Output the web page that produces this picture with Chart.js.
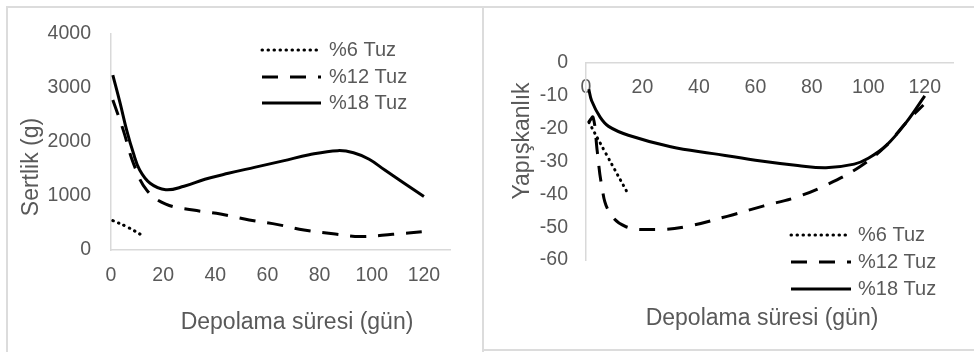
<!DOCTYPE html>
<html>
<head>
<meta charset="utf-8">
<script src="https://cdn.jsdelivr.net/npm/chart.js@4.4.1/dist/chart.umd.min.js"></script>
<style>
  html, body { margin: 0; padding: 0; background: #fff; }
  body { width: 974px; height: 352px; position: relative; overflow: hidden; }
  .frame { position: absolute; border: 2px solid #dcdcdc; box-sizing: border-box; }
  canvas { position: absolute; top: 0; }
</style>
</head>
<body>
<div class="frame" style="left:6px; top:6px; width:478px; height:400px;"></div>
<div class="frame" style="left:482px; top:6px; width:500px; height:345px;"></div>
<canvas id="sertlikChart" width="483" height="352" style="left:0"></canvas>
<canvas id="yapiskanlikChart" width="490" height="352" style="left:484px"></canvas>

<script>
// tick labels
const gunTicks = [0, 20, 40, 60, 80, 100, 120];
const sertlikTicks = [0, 1000, 2000, 3000, 4000];
const yapiskanlikTicks = [0, -10, -20, -30, -40, -50, -60];
const seriesNames = ["%6 Tuz", "%12 Tuz", "%18 Tuz"];

// Sertlik (g)
const sertlik6Gun = [0.7, 6, 12.4];
const sertlik6 = [545, 432, 259];
const sertlik12Gun = [0.7, 4.7, 8.6, 13.7, 21, 31.5, 42, 53, 64, 74, 86, 95.5, 108, 120];
const sertlik12 = [2780, 2220, 1605, 1110, 850, 740, 667, 556, 470, 370, 296, 250, 290, 340];
const sertlik18Gun = [0.7, 3.5, 6, 8.6, 11, 15, 21, 28, 36, 45, 55, 66, 76, 87, 93, 99, 105, 112, 120];
const sertlik18 = [3240, 2720, 2220, 1790, 1480, 1235, 1115, 1180, 1310, 1420, 1530, 1650, 1765, 1840, 1800, 1680, 1480, 1250, 990];

// Yapışkanlık
const yap6Gun = [1, 7, 15];
const yap6 = [-18, -27.5, -40];
const yap12Gun = [1, 2.5, 4, 5.5, 8, 14, 25, 35, 50, 63, 74, 85, 97, 106.5, 113.5, 119.5];
const yap12 = [-18, -16.5, -27, -37, -45, -49.8, -50.7, -49.9, -46.7, -43.5, -41, -37.2, -31.6, -25, -18, -12.8];
const yap18Gun = [1, 2, 5, 8, 15, 30, 45, 60, 75, 85, 95, 100, 106.5, 113.5, 120];
const yap18 = [-8, -11.5, -16.5, -19.3, -22, -25.5, -27.6, -29.6, -31.2, -31.9, -30.8, -29, -25, -18, -10];

const textColor = "#595959";
const axisColor = "#d9d9d9";
const fontFamily = "'Liberation Sans', Arial, sans-serif";

const lineStyles = [
  { dash: [0.5, 5.5], cap: "round" },
  { dash: [16, 12], cap: "butt" },
  { dash: [], cap: "butt" }
];

function toPoints(xs, ys) {
  return xs.map((x, i) => ({ x: x, y: ys[i] }));
}

function buildDatasets(pairs) {
  return pairs.map((pair, i) => ({
    label: seriesNames[i],
    data: toPoints(pair[0], pair[1]),
    borderColor: "#000",
    borderWidth: 3,
    borderDash: lineStyles[i].dash,
    borderCapStyle: lineStyles[i].cap,
    borderJoinStyle: "round",
    pointRadius: 0,
    tension: 0.4,
    fill: false
  }));
}

const lineLegend = {
  id: "lineLegend",
  afterDatasetsDraw(chart, args, opts) {
    const ctx = chart.ctx;
    ctx.save();
    chart.data.datasets.forEach((ds, i) => {
      const y = opts.rows[i];
      ctx.beginPath();
      ctx.lineWidth = ds.borderWidth;
      ctx.strokeStyle = ds.borderColor;
      ctx.lineCap = ds.borderCapStyle;
      ctx.setLineDash(ds.borderDash);
      ctx.moveTo(opts.x, y);
      ctx.lineTo(opts.x + opts.length, y);
      ctx.stroke();
      ctx.setLineDash([]);
      ctx.fillStyle = textColor;
      ctx.font = "20px " + fontFamily;
      ctx.textAlign = "left";
      ctx.textBaseline = "middle";
      ctx.fillText(ds.label, opts.textX, y);
    });
    ctx.restore();
  }
};

const axisTitles = {
  id: "axisTitles",
  afterDraw(chart, args, opts) {
    const ctx = chart.ctx;
    ctx.save();
    ctx.fillStyle = textColor;
    ctx.font = "23px " + fontFamily;
    ctx.textAlign = "center";
    ctx.textBaseline = "middle";
    ctx.fillText(opts.xText, opts.xPos[0], opts.xPos[1]);
    ctx.translate(opts.yPos[0], opts.yPos[1]);
    ctx.rotate(-Math.PI / 2);
    ctx.fillText(opts.yText, 0, 0);
    ctx.restore();
  }
};

function axisOptions(tickValues, extra) {
  return Object.assign({
    type: "linear",
    afterBuildTicks: scale => { scale.ticks = tickValues.map(v => ({ value: v })); },
    grid: { display: false, drawTicks: false },
    border: { display: true, color: axisColor, width: 1.5 },
    ticks: {
      color: textColor,
      font: { family: fontFamily, size: 19.5 },
      maxRotation: 0,
      callback: v => String(v)
    }
  }, extra);
}

const sertlikX = axisOptions(gunTicks, { position: "bottom", min: 0, max: 130, afterFit: s => { s.height = 102; } });
sertlikX.ticks.padding = 14;
const sertlikY = axisOptions(sertlikTicks, { position: "left", min: 0, max: 4000, afterFit: s => { s.width = 111; } });
sertlikY.ticks.padding = 20;

new Chart(document.getElementById("sertlikChart"), {
  type: "line",
  data: {
    datasets: buildDatasets([[sertlik6Gun, sertlik6], [sertlik12Gun, sertlik12], [sertlik18Gun, sertlik18]])
  },
  options: {
    responsive: false,
    animation: false,
    devicePixelRatio: 1,
    layout: { padding: { top: 34, right: 33, bottom: 0, left: 0 } },
    scales: { x: sertlikX, y: sertlikY },
    plugins: {
      legend: { display: false },
      tooltip: { enabled: false },
      lineLegend: { x: 262, length: 59, textX: 329, rows: [50, 77, 103] },
      axisTitles: { xText: "Depolama süresi (gün)", xPos: [297, 323], yText: "Sertlik (g)", yPos: [32, 167] }
    }
  },
  plugins: [lineLegend, axisTitles]
});

const yapX = axisOptions(gunTicks, { position: { y: 0 }, min: 0, max: 130 });
yapX.ticks.padding = 13;
const yapY = axisOptions(yapiskanlikTicks, { position: "left", min: -60, max: 0, afterFit: s => { s.width = 102; } });
yapY.ticks.padding = 18;

new Chart(document.getElementById("yapiskanlikChart"), {
  type: "line",
  data: {
    datasets: buildDatasets([[yap6Gun, yap6], [yap12Gun, yap12], [yap18Gun, yap18]])
  },
  options: {
    responsive: false,
    animation: false,
    devicePixelRatio: 1,
    layout: { padding: { top: 63, right: 21, bottom: 92, left: 0 } },
    scales: { x: yapX, y: yapY },
    plugins: {
      legend: { display: false },
      tooltip: { enabled: false },
      lineLegend: { x: 307, length: 60, textX: 374, rows: [235, 262, 289] },
      axisTitles: { xText: "Depolama süresi (gün)", xPos: [278, 319], yText: "Yapışkanlık", yPos: [39, 141] }
    }
  },
  plugins: [lineLegend, axisTitles]
});
</script>
</body>
</html>
